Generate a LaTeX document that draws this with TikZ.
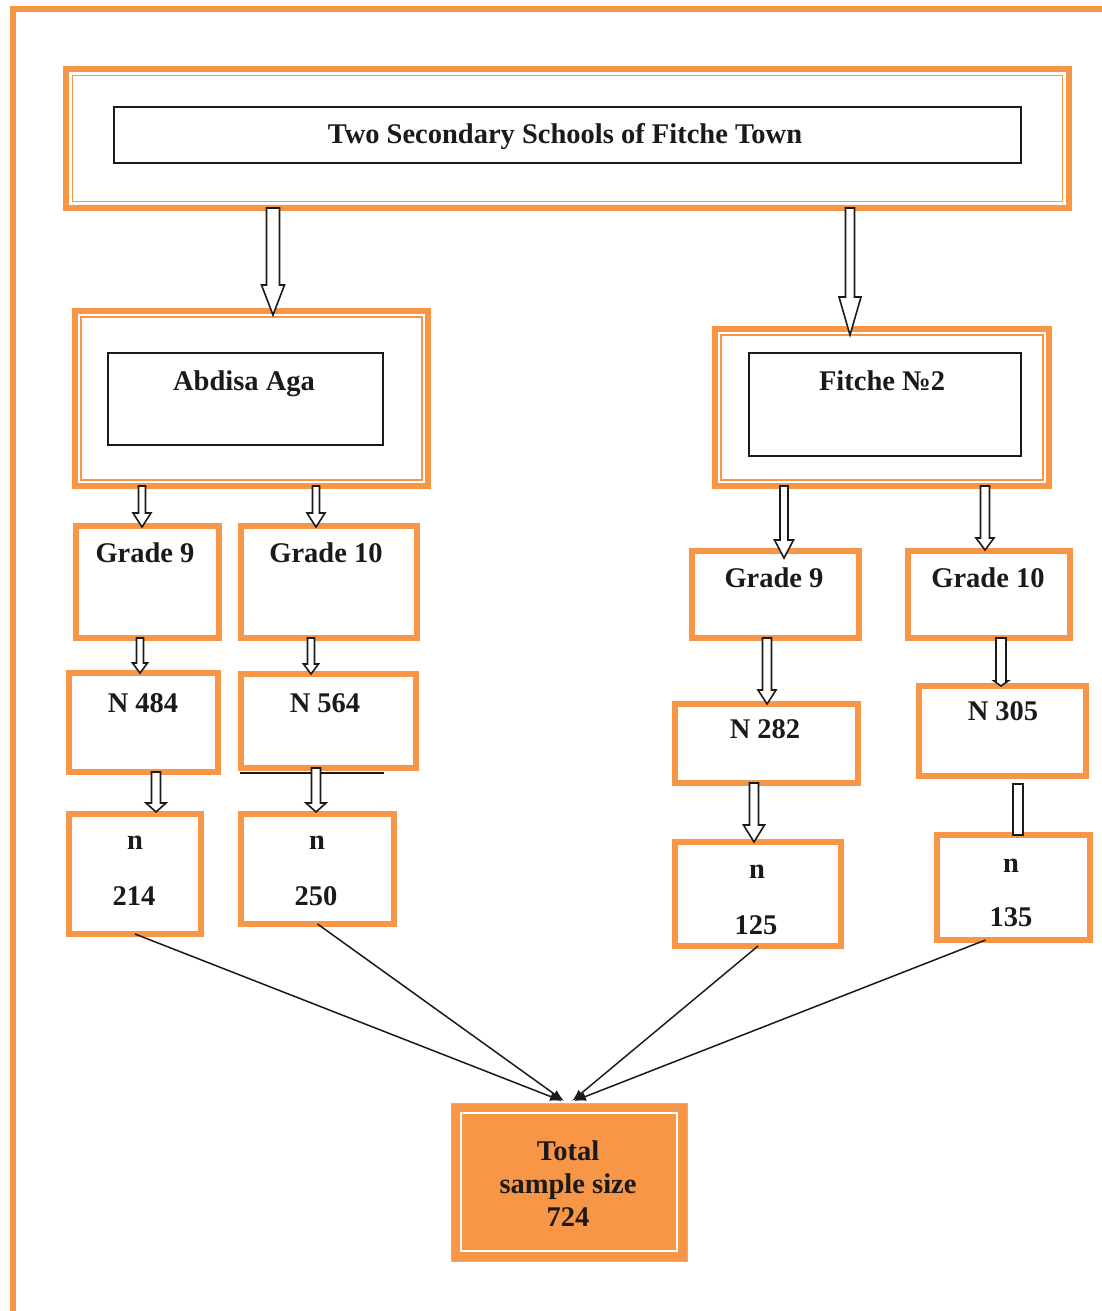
\documentclass[tikz,border=0pt]{standalone}
\usepackage{fontspec}
\setmainfont{Liberation Serif}
\usetikzlibrary{calc,arrows.meta}
\definecolor{org}{HTML}{F79646}
\definecolor{ink}{HTML}{1A1A1A}
\tikzset{
  obox/.style={draw=org, line width=6pt, inner sep=0pt, outer sep=0pt, rectangle},
  kbox/.style={draw=ink, line width=1.6pt, inner sep=0pt, outer sep=0pt, rectangle},
  thinorg/.style={draw=org, line width=1.8pt},
  txt/.style={font=\bfseries\fontsize{28.5}{33}\selectfont, text=ink, inner sep=0pt, anchor=base},
  blkarr/.style={draw=ink, fill=white, line width=1.6pt, line join=miter},
  conn/.style={draw=ink, line width=1.5pt, -{Latex[length=12pt,width=9pt]}},
}
\newcommand\blockarr[7]{%
  \draw[blkarr] let \p1=(#1.south), \p2=(#2.north) in
    (#3pt-#4pt,\y1) -- (#3pt-#4pt,\y2-#7pt+#6pt) -- (#3pt-#5pt,\y2-#7pt+#6pt)
    -- (#3pt,\y2-#7pt) -- (#3pt+#5pt,\y2-#7pt+#6pt) -- (#3pt+#4pt,\y2-#7pt+#6pt)
    -- (#3pt+#4pt,\y1) -- cycle;}
\newcommand\innerframe[3]{%
  \draw[#3] ($(#1.south west)+(#2,-#2)$) rectangle ($(#1.north east)+(-#2,#2)$);}
\begin{document}
\begin{tikzpicture}[x=1pt,y=-1pt]
\useasboundingbox (0,0) rectangle (1102,1311);
% outer frame
\draw[org, line width=6pt] (12.5,1320) -- (12.5,9.5) -- (1110,9.5);

% top box
\node[obox, minimum width=1003, minimum height=139] (top) at (567.5,138.5) {};
\innerframe{top}{6.5}{thinorg}
\node[kbox, minimum width=907, minimum height=56] (topin) at (567.5,135) {};
\node[txt] (ttop) at (565,143) {Two Secondary Schools of Fitche Town};

% school boxes
\node[obox, minimum width=353, minimum height=175] (abd) at (251.5,398.5) {};
\innerframe{abd}{6}{thinorg}
\node[kbox, minimum width=275, minimum height=92] (abdin) at (245.5,399) {};
\node[txt] (tabd) at (244,390) {Abdisa Aga};

\node[obox, minimum width=334, minimum height=157] (fit) at (882,407.5) {};
\innerframe{fit}{6}{thinorg}
\node[kbox, minimum width=272, minimum height=103] (fitin) at (885,404.5) {};
\node[txt] (tfit) at (882,390) {Fitche №2};

% grade boxes
\node[obox, minimum width=143, minimum height=112] (lg9) at (147.5,582) {};
\node[txt] (tlg9) at (145,562) {Grade 9};
\node[obox, minimum width=176, minimum height=112] (lg10) at (329,582) {};
\node[txt] (tlg10) at (326,562) {Grade 10};
\node[obox, minimum width=167, minimum height=87] (rg9) at (775.5,594.5) {};
\node[txt] (trg9) at (774,587) {Grade 9};
\node[obox, minimum width=162, minimum height=87] (rg10) at (989,594.5) {};
\node[txt] (trg10) at (988,587) {Grade 10};

% population boxes
\node[obox, minimum width=149, minimum height=99] (n484) at (143.5,722.5) {};
\node[txt] (tn484) at (143,712) {N 484};
\node[obox, minimum width=175, minimum height=94] (n564) at (328.5,721) {};
\node[txt] (tn564) at (325,712) {N 564};
\node[obox, minimum width=183, minimum height=79] (n282) at (766.5,743.5) {};
\node[txt] (tn282) at (765,738) {N 282};
\node[obox, minimum width=167, minimum height=90] (n305) at (1002.5,731) {};
\node[txt] (tn305) at (1003,720) {N 305};
\coordinate (ulA) at (240,773);
\coordinate (ulB) at (384,773);
\draw[ink, line width=1.6pt] (ulA) -- (ulB);

% sample boxes
\node[obox, minimum width=132, minimum height=120] (s214) at (135,874) {};
\node[txt] (s214n) at (135,849) {n};
\node[txt] (s214v) at (134,905) {214};
\node[obox, minimum width=153, minimum height=110] (s250) at (317.5,869) {};
\node[txt] (s250n) at (317,849) {n};
\node[txt] (s250v) at (316,905) {250};
\node[obox, minimum width=166, minimum height=104] (s125) at (758,894) {};
\node[txt] (s125n) at (757,878) {n};
\node[txt] (s125v) at (756,934) {125};
\node[obox, minimum width=153, minimum height=105] (s135) at (1013.5,887.5) {};
\node[txt] (s135n) at (1011,872) {n};
\node[txt] (s135v) at (1011,926) {135};

% total box
\node[draw=org!85, fill=org, line width=1pt, inner sep=0pt, outer sep=0pt,
      minimum width=236, minimum height=158] (total) at (569,1182) {};
\innerframe{total}{10}{draw=white, line width=1.6pt}
\node[txt, anchor=center, align=center] (ttotal) at (568,1184) {Total\\sample size\\724};

% block arrows
\blockarr{top}{abd}{273}{6.5}{11.5}{30}{4}
\blockarr{top}{fit}{850}{4.5}{11}{38}{6}
\blockarr{abd}{lg9}{142}{3.5}{9}{14}{1}
\blockarr{abd}{lg10}{316}{3.5}{9}{14}{1}
\blockarr{fit}{rg9}{784}{4}{9.5}{18}{7}
\blockarr{fit}{rg10}{985}{4.5}{9}{12}{-1}
\blockarr{lg9}{n484}{140}{3.5}{7.5}{10}{0}
\blockarr{lg10}{n564}{311}{3.5}{7.5}{10}{0}
\blockarr{rg9}{n282}{767}{4.5}{9}{14}{0}
\blockarr{rg10}{n305}{1001}{5}{7}{5}{0}
\blockarr{n484}{s214}{156}{4.5}{10}{9}{-2}
\blockarr{n564}{s250}{316}{4.5}{10}{9}{-2}
\blockarr{n282}{s125}{754}{4.5}{10.5}{17}{0}
\draw[blkarr] let \p1=(n305.south), \p2=(s135.north) in
  (1013pt,\y1-8pt) rectangle (1023pt,\y2);

% connectors to total
\draw[conn] (s214.south) -- ($(total.north)+(-7,-2)$);
\draw[conn] (s250.south) -- ($(total.north)+(-5,-2)$);
\draw[conn] (s125.south) -- ($(total.north)+(3,-2)$);
\draw[conn] ($(s135.south)+(-28,0)$) -- ($(total.north)+(5,-2)$);
\end{tikzpicture}
\end{document}
